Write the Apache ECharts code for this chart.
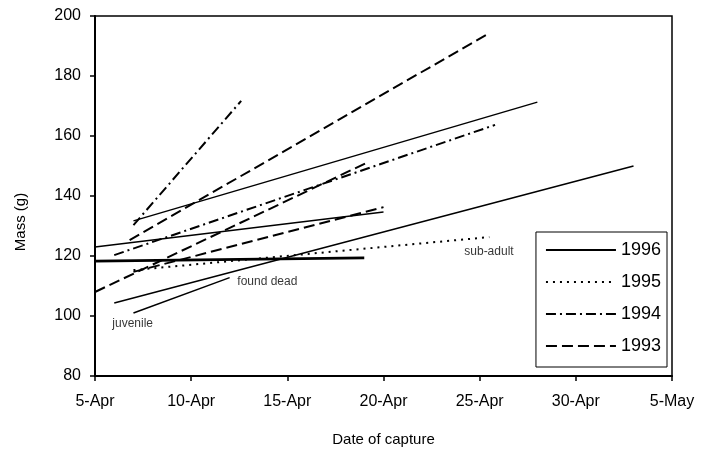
<!DOCTYPE html>
<html>
<head>
<meta charset="utf-8">
<script src="https://cdn.jsdelivr.net/npm/echarts@6/dist/echarts.min.js"></script>
<style>
  html, body { margin: 0; padding: 0; background: #fff; }
  #chart { width: 710px; height: 460px; }
</style>
</head>
<body>
<div id="chart"></div>
<script>
// day of April on x (31 = 1-May), mass in grams on y
var xTickLabels = ["5-Apr", "10-Apr", "15-Apr", "20-Apr", "25-Apr", "30-Apr", "5-May"];
var years = ["1996", "1995", "1994", "1993"];

// one entry per bird: [[startDay, startMass], [endDay, endMass]]
var seg1996 = [
  [[6, 104.3], [33, 150]],
  [[7, 101], [12, 112.8]],
  [[5, 123], [20, 134.7]],
  [[7, 131.7], [28, 171.3]],
  [[5, 118.3], [19, 119.4]]
];
var seg1995 = [
  [[7, 115.3], [25.5, 126.3]]
];
var seg1994 = [
  [[7, 130.3], [12.6, 171.7]],
  [[6, 120.3], [25.8, 163.7]]
];
var seg1993 = [
  [[6.8, 125.3], [25.5, 194.3]],
  [[5, 108], [19.2, 151.3]],
  [[7, 114.7], [20, 136.3]]
];

// annotations: [day, mass, text]
var notes = [
  [5.9, 97.3, "juvenile"],
  [12.4, 111.3, "found dead"],
  [24.2, 121.3, "sub-adult"]
];

(function () {
  var chart = echarts.init(document.getElementById("chart"), null, { renderer: "canvas" });
  var font = "Liberation Sans";

  var dashTypes = {
    "1996": "solid",
    "1995": [2, 5],
    "1994": [10, 4, 2, 4],
    "1993": [11, 5]
  };
  var segs = { "1996": seg1996, "1995": seg1995, "1994": seg1994, "1993": seg1993 };

  var series = [];
  years.forEach(function (y) {
    segs[y].forEach(function (seg, i) {
      var w = y === "1996" ? 1.5 : 2;
      if (y === "1996" && i === 4) w = 2.8; // heavier line in the original
      series.push({
        name: y,
        type: "line",
        data: seg,
        symbol: "none",
        silent: true,
        lineStyle: { color: "#000", width: w, type: dashTypes[y] },
        itemStyle: { color: "#000" }
      });
    });
  });

  series.push({
    type: "scatter",
    data: notes.map(function (n) { return { value: [n[0], n[1]], name: n[2] }; }),
    symbolSize: 0,
    silent: true,
    label: {
      show: true,
      position: "right",
      distance: 0,
      formatter: "{b}",
      fontFamily: font,
      fontSize: 12,
      color: "#000"
    }
  });

  chart.setOption({
    animation: false,
    grid: {
      left: 95, right: 38, top: 16, bottom: 84,
      show: true, borderColor: "#000", borderWidth: 1.5
    },
    legend: {
      data: years,
      orient: "vertical",
      right: 43,
      top: 232,
      itemWidth: 70,
      itemHeight: 14,
      itemGap: 14,
      padding: [9, 6, 12, 9],
      borderColor: "#000",
      borderWidth: 1,
      selectedMode: false,
      itemStyle: { opacity: 0 },
      textStyle: { fontFamily: font, fontSize: 18, color: "#000", lineHeight: 18 }
    },
    xAxis: {
      type: "value",
      min: 5,
      max: 35,
      interval: 5,
      name: "Date of capture",
      nameLocation: "middle",
      nameGap: 56,
      nameTextStyle: { fontFamily: font, fontSize: 15, color: "#000" },
      axisLine: { lineStyle: { color: "#000", width: 2 } },
      axisTick: { length: 5, lineStyle: { color: "#000", width: 1.5 } },
      splitLine: { show: false },
      axisLabel: {
        margin: 18,
        fontFamily: font,
        fontSize: 16,
        color: "#000",
        formatter: function (v) { return xTickLabels[Math.round((v - 5) / 5)]; }
      }
    },
    yAxis: {
      type: "value",
      min: 80,
      max: 200,
      interval: 20,
      axisLine: { show: true, lineStyle: { color: "#000", width: 2 } },
      axisTick: { show: true, length: 5, lineStyle: { color: "#000", width: 1.5 } },
      splitLine: { show: false },
      axisLabel: { margin: 14, fontFamily: font, fontSize: 16, color: "#000" }
    },
    graphic: [{
      type: "text",
      x: 21,
      y: 222,
      rotation: Math.PI / 2,
      style: {
        text: "Mass (g)",
        fontFamily: font,
        fontSize: 15,
        fill: "#000",
        align: "center",
        verticalAlign: "middle"
      }
    }],
    series: series
  });
})();
</script>
</body>
</html>
